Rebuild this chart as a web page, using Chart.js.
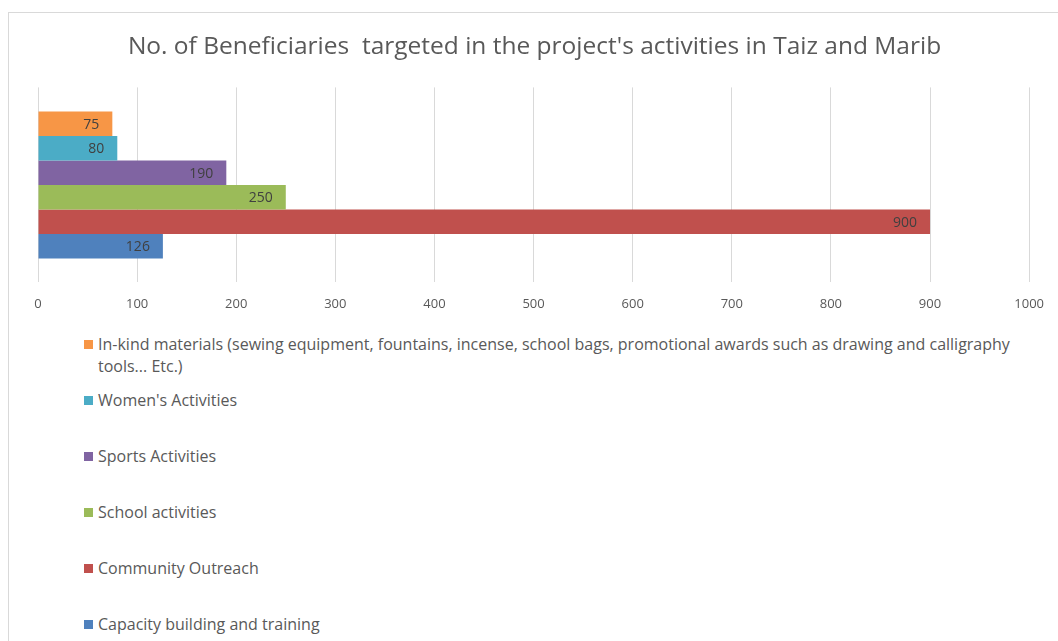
<!DOCTYPE html>
<html>
<head>
<meta charset="utf-8">
<script src="https://cdn.jsdelivr.net/npm/chart.js@4/dist/chart.umd.min.js"></script>
<style>
  html, body { margin: 0; padding: 0; background: #fff; overflow: hidden; }
  body { width: 1058px; height: 641px; position: relative; font-family: "Open Sans", sans-serif; }
  #frame { position: absolute; left: 8px; top: 12px; width: 1200px; height: 800px; border: 1px solid #d9d9d9; }
  #wrap { position: absolute; left: 0; top: 0; width: 1058px; height: 330px; }
  #legend { position: absolute; left: 0; top: 0; }
  .item { position: absolute; left: 84px; width: 930px; font-size: 16px; line-height: 22px; color: #595959; }
  .item .box { position: absolute; left: 0; top: 7px; width: 9px; height: 9px; }
  .item .txt { margin-left: 14px; }
</style>
</head>
<body>
<div id="frame"></div>
<div id="wrap"><canvas id="chart"></canvas></div>
<div id="legend"></div>
<script>
// series (top to bottom in the chart)
const seriesNames = [
  'In-kind materials (sewing equipment, fountains, incense, school bags, promotional awards such as drawing and calligraphy tools... Etc.)',
  "Women's Activities",
  'Sports Activities',
  'School activities',
  'Community Outreach',
  'Capacity building and training'
];
const seriesValues = [75, 80, 190, 250, 900, 126];
const seriesColors = ['#F79646', '#4BACC6', '#8064A2', '#9BBB59', '#C0504D', '#4F81BD'];
const tickValues = [0, 100, 200, 300, 400, 500, 600, 700, 800, 900, 1000];

// value labels at the inside end of every bar
const barLabels = {
  id: 'barLabels',
  afterDatasetsDraw(chart) {
    const ctx = chart.ctx;
    ctx.save();
    ctx.font = '14px "Open Sans", sans-serif';
    ctx.fillStyle = '#404040';
    ctx.textAlign = 'right';
    ctx.textBaseline = 'middle';
    chart.data.datasets.forEach((ds, i) => {
      chart.getDatasetMeta(i).data.forEach((bar, j) => {
        ctx.fillText(String(ds.data[j]), bar.x - 13, bar.y + 1);
      });
    });
    ctx.restore();
  }
};

const ctx1 = document.getElementById('chart').getContext('2d');
new Chart(ctx1, {
  type: 'bar',
  data: {
    labels: [''],
    datasets: seriesNames.map((name, i) => ({
      label: name,
      data: [seriesValues[i]],
      backgroundColor: seriesColors[i],
      borderWidth: 0,
      categoryPercentage: 0.754,
      barPercentage: 1
    }))
  },
  options: {
    indexAxis: 'y',
    responsive: true,
    maintainAspectRatio: false,
    animation: false,
    layout: { padding: { left: 38, right: 27, top: 0, bottom: 4 } },
    scales: {
      x: {
        min: 0,
        max: 1000,
        afterBuildTicks: (axis) => { axis.ticks = tickValues.map(v => ({ value: v })); },
        grid: { color: '#d9d9d9', drawTicks: false },
        border: { display: false },
        ticks: {
          color: '#595959',
          padding: 14,
          font: { size: 13, family: '"Open Sans", sans-serif' },
          callback: (value) => String(value)
        }
      },
      y: { display: false }
    },
    plugins: {
      title: {
        display: true,
        text: "No. of Beneficiaries  targeted in the project's activities in Taiz and Marib",
        color: '#595959',
        font: { size: 24.5, weight: 'normal', family: '"Open Sans", sans-serif' },
        padding: { top: 32, bottom: 26 }
      },
      legend: { display: false },
      tooltip: { enabled: false }
    }
  },
  plugins: [barLabels]
});

// legend listed vertically under the chart
const legend = document.getElementById('legend');
seriesNames.forEach((name, i) => {
  const div = document.createElement('div');
  div.className = 'item';
  div.style.top = (333 + 56 * i) + 'px';
  div.innerHTML = '<span class="box" style="background:' + seriesColors[i] + '"></span><div class="txt"></div>';
  div.querySelector('.txt').textContent = name;
  legend.appendChild(div);
});
</script>
</body>
</html>
